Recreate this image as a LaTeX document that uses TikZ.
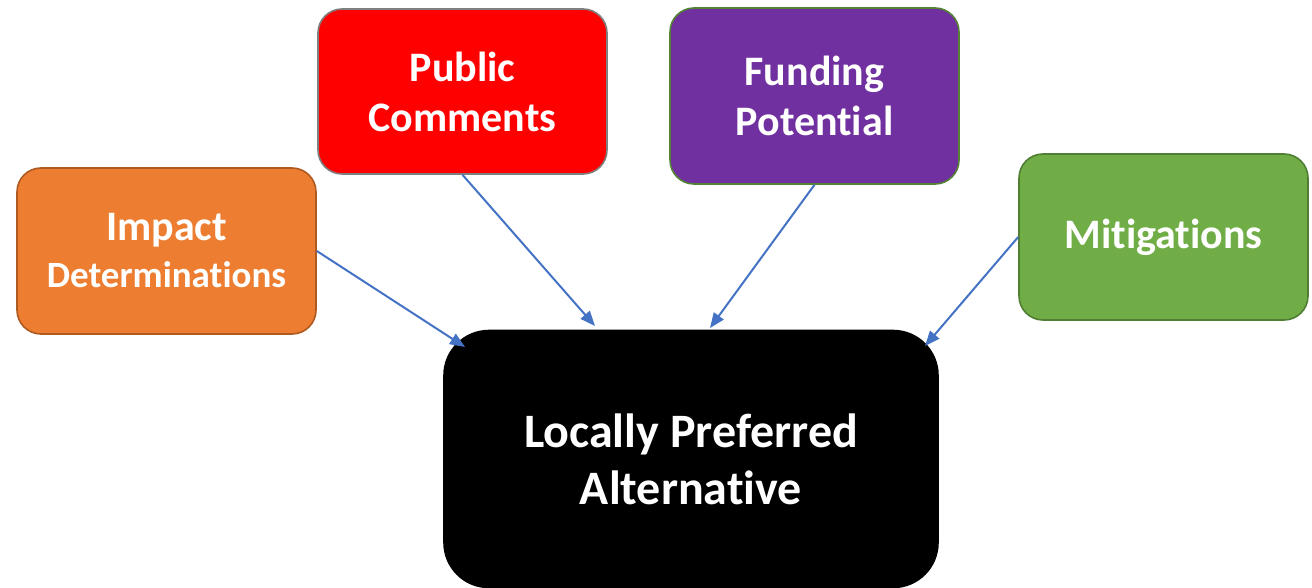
\documentclass[tikz,border=0pt]{standalone}
\usepackage{fontspec}
\setmainfont{Carlito}[Ligatures={NoCommon,NoContextual}]
\usetikzlibrary{arrows.meta}
\definecolor{orangeF}{HTML}{ED7D31}
\definecolor{orangeD}{HTML}{AE5A21}
\definecolor{grayD}{HTML}{7F7F7F}
\definecolor{purpleF}{HTML}{7030A0}
\definecolor{greenD}{HTML}{548235}
\definecolor{greenF}{HTML}{70AD47}
\definecolor{greenB}{HTML}{507E32}
\definecolor{arrowblue}{HTML}{4472C4}
\newcommand{\nl}{\kern0pt }
\tikzset{
  box/.style={rectangle, rounded corners=24pt, line width=1.6pt, text=white, align=center, font=\bfseries\fontsize{42}{50}\selectfont, inner sep=0pt},
  conn/.style={draw=arrowblue, line width=2pt, -{Triangle[length=15pt,width=12pt]}}
}
\begin{document}
\begin{tikzpicture}[x=1pt,y=-1pt]
\useasboundingbox (0,0) rectangle (1312,588);
\node[box, fill=orangeF, draw=orangeD, minimum width=299pt, minimum height=166pt] (impact) at (166.5,251) {Impact\\[-3pt]{\fontsize{37}{45}\selectfont Determinat\nl ions}};
\node[box, fill=red, draw=grayD, minimum width=289pt, minimum height=165pt] (public) at (462.5,91.5) {Public\\Comments};
\node[box, fill=purpleF, draw=greenD, minimum width=289pt, minimum height=176pt] (funding) at (814.5,96) {Funding\\Potent\nl ial};
\node[box, fill=greenF, draw=greenB, minimum width=289pt, minimum height=166pt] (mitig) at (1163.5,237) {Mitigat\nl ions};
\node[box, fill=black, draw=black, rounded corners=45pt, minimum width=494pt, minimum height=257pt, font=\bfseries\fontsize{48}{57}\selectfont] (lpa) at (691,459) {Locally Preferred\\Alternat\nl ive};
\coordinate (e1) at (465,347);
\coordinate (e2) at (595,326);
\coordinate (e3) at (710,328);
\coordinate (e4) at (925,346);
\draw[conn] (impact.east) -- (e1);
\draw[conn] (public.south) -- (e2);
\draw[conn] (funding.south) -- (e3);
\draw[conn] (mitig.west) -- (e4);
\end{tikzpicture}
\end{document}
